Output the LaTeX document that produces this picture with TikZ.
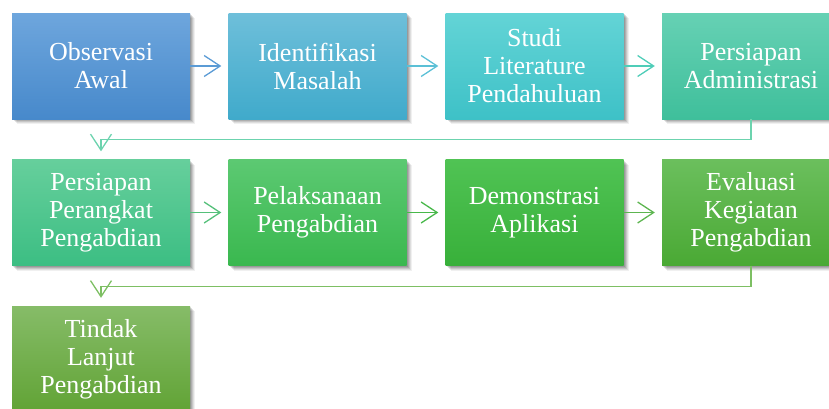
\documentclass[tikz,border=0pt]{standalone}
\usepackage{fontspec}
\setmainfont{Liberation Serif}
\usetikzlibrary{arrows.meta,shadows}
\definecolor{aT}{HTML}{6EA6DD}\definecolor{aB}{HTML}{4789CB}
\definecolor{bT}{HTML}{6EBFDA}\definecolor{bB}{HTML}{40AACB}
\definecolor{cT}{HTML}{63D4D6}\definecolor{cB}{HTML}{3EC1C7}
\definecolor{dT}{HTML}{66D1B4}\definecolor{dB}{HTML}{3FBF9B}
\definecolor{eT}{HTML}{66CF9C}\definecolor{eB}{HTML}{3CBE83}
\definecolor{fT}{HTML}{5CC972}\definecolor{fB}{HTML}{3AB84F}
\definecolor{gT}{HTML}{50C354}\definecolor{gB}{HTML}{38B03A}
\definecolor{hT}{HTML}{6BBF5D}\definecolor{hB}{HTML}{4AA934}
\definecolor{iT}{HTML}{86BC68}\definecolor{iB}{HTML}{61A335}
\definecolor{l1}{HTML}{5B9BD5}\definecolor{l2}{HTML}{5BC0D6}
\definecolor{l3}{HTML}{4FCDB8}\definecolor{l4}{HTML}{6CD3AE}
\definecolor{l5}{HTML}{55C07A}\definecolor{l6}{HTML}{48B84A}
\definecolor{l7}{HTML}{5DB550}\definecolor{l8}{HTML}{7DBF63}
\tikzset{
  softshadow/.style={
    general shadow={shadow xshift=5pt, shadow yshift=-5pt, opacity=0.06, fill=black},
    general shadow={shadow xshift=4pt, shadow yshift=-4pt, opacity=0.08, fill=black},
    general shadow={shadow xshift=3pt, shadow yshift=-3pt, opacity=0.10, fill=black},
    general shadow={shadow xshift=2pt, shadow yshift=-2pt, opacity=0.12, fill=black},
    general shadow={shadow xshift=1pt, shadow yshift=-1pt, opacity=0.12, fill=black}},
  stepbox/.style={minimum width=178pt, minimum height=106pt, inner sep=0pt,
    align=center, text=white, font=\fontsize{26}{28}\selectfont, softshadow},
  conn/.style={line width=1.3pt, -{Straight Barb[length=16pt,width=21pt,line width=1.3pt]}, shorten >=7pt}
}
\begin{document}
\begin{tikzpicture}[x=1pt,y=-1pt]
\useasboundingbox (0,0) rectangle (829,408);
\clip (0,0) rectangle (829,408);
\node[stepbox, top color=aT, bottom color=aB] (n1) at (101,66) {Observasi\\Awal};
\node[stepbox, top color=bT, bottom color=bB] (n2) at (317.5,66) {Identifikasi\\Masalah};
\node[stepbox, top color=cT, bottom color=cB] (n3) at (534.5,66) {Studi\\Literature\\Pendahuluan};
\node[stepbox, top color=dT, bottom color=dB] (n4) at (751,66) {Persiapan\\Administrasi};
\node[stepbox, top color=eT, bottom color=eB] (n5) at (101,212.5) {Persiapan\\Perangkat\\Pengabdian};
\node[stepbox, top color=fT, bottom color=fB] (n6) at (317.5,212.5) {Pelaksanaan\\Pengabdian};
\node[stepbox, top color=gT, bottom color=gB] (n7) at (534.5,212.5) {Demonstrasi\\Aplikasi};
\node[stepbox, top color=hT, bottom color=hB] (n8) at (751,212.5) {Evaluasi\\Kegiatan\\Pengabdian};
\node[stepbox, top color=iT, bottom color=iB] (n9) at (101,359) {Tindak\\Lanjut\\Pengabdian};
\draw[conn, l1] (n1) -- (n2);
\draw[conn, l2] (n2) -- (n3);
\draw[conn, l3] (n3) -- (n4);
\draw[conn, l4, shorten >=8pt] (n4.south) -- ++(0,20) -| (n5.north);
\draw[conn, l5] (n5) -- (n6);
\draw[conn, l6] (n6) -- (n7);
\draw[conn, l7] (n7) -- (n8);
\draw[conn, l8, shorten >=8pt] (n8.south) -- ++(0,21) -| (n9.north);
\end{tikzpicture}
\end{document}
